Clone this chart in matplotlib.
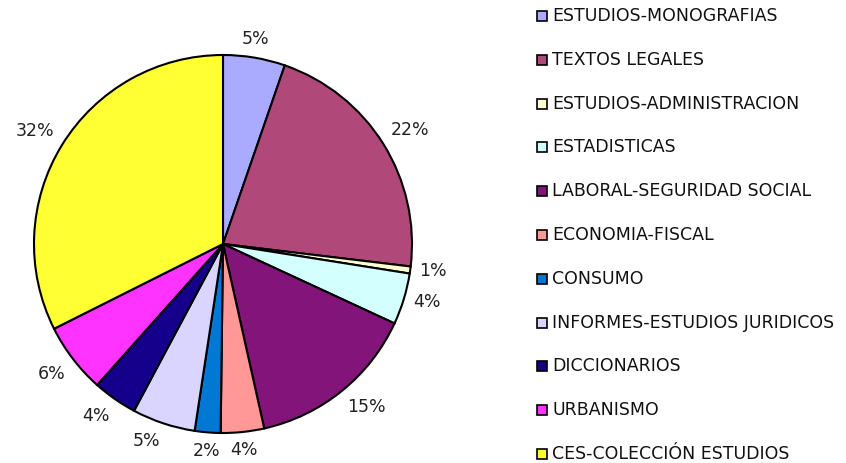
import numpy as np
import matplotlib.pyplot as plt
from matplotlib.patches import Rectangle

# Categories, values (percent shares) and slice colours
categories = ["ESTUDIOS-MONOGRAFIAS", "TEXTOS LEGALES", "ESTUDIOS-ADMINISTRACION",
              "ESTADISTICAS", "LABORAL-SEGURIDAD SOCIAL", "ECONOMIA-FISCAL",
              "CONSUMO", "INFORMES-ESTUDIOS JURIDICOS", "DICCIONARIOS",
              "URBANISMO", "CES-COLECCIÓN ESTUDIOS"]
values = [5.3, 21.6, 0.6, 4.4, 14.6, 3.7, 2.2, 5.4, 3.8, 6.0, 32.4]
colors = ["#AAAAFF", "#B0497A", "#FFFFD2", "#D4FFFF", "#82147A", "#FF9896",
          "#0078D4", "#DAD5FF", "#14008A", "#FF33FF", "#FFFF33"]

plt.rcParams['font.family'] = ['DejaVu Sans']

fig = plt.figure(figsize=(8.46, 4.63), dpi=100)

# Pie axes: centre ~ (223, 244) px, radius ~ 189 px
ax = fig.add_axes([34 / 846, 30 / 463, 378 / 846, 378 / 463])
wedges, texts, autotexts = ax.pie(
    values, colors=colors, startangle=90, counterclock=False,
    autopct='%.0f%%', pctdistance=1.1,
    wedgeprops=dict(edgecolor='black', linewidth=1.5),
    textprops=dict(fontsize=12.5, color='#222222'))

# Excel-style label placement: just outside the rim, aligned away from the pie
for w, t in zip(wedges, autotexts):
    ang = np.deg2rad((w.theta1 + w.theta2) / 2)
    cx, cy = np.cos(ang), np.sin(ang)
    t.set_position((1.05 * cx, 1.05 * cy))
    t.set_ha('left' if cx > 0.3 else ('right' if cx < -0.3 else 'center'))
    t.set_va('bottom' if cy > 0.3 else ('top' if cy < -0.3 else 'center'))

ax.set_xlim(-1, 1)
ax.set_ylim(-1, 1)
ax.set_aspect('equal')
ax.axis('off')

# Legend drawn by hand: square + label per row
y0 = 16
step = 43.8
for i, (name, c) in enumerate(zip(categories, colors)):
    yc = y0 + i * step
    fig.patches.append(Rectangle((537 / 846, 1 - (yc + 5) / 463), 10 / 846, 10 / 463,
                                 transform=fig.transFigure, facecolor=c,
                                 edgecolor='black', linewidth=1.2))
    fig.text(552 / 846, 1 - yc / 463, name, fontsize=12.5, color='#111111',
             ha='left', va='center')

fig.savefig("out.png", dpi=100)
